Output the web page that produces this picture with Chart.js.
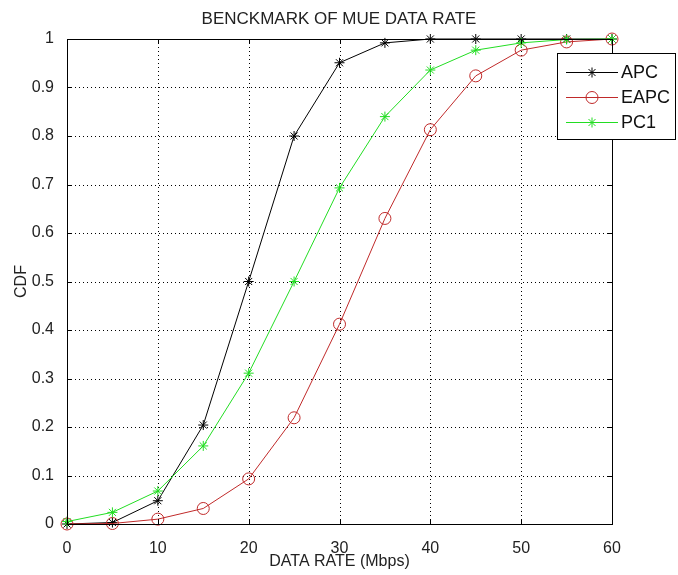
<!DOCTYPE html>
<html lang="en">
<head>
  <meta charset="UTF-8" />
  <title>Benckmark of MUE data rate</title>
  <script src="https://cdn.jsdelivr.net/npm/chart.js"></script>
  <style>
    html,body{margin:0;padding:0;background:#fff;}
    canvas{display:block;}
  </style>
</head>
<body>
  <canvas id="chart" width="678" height="575"></canvas>

<script>
// ── data ─────────────────────────────────────────────────────────────────
const rates = [0, 5, 10, 15, 20, 25, 30, 35, 40, 45, 50, 55, 60];
const apc   = [0, 0.003, 0.048, 0.204, 0.5, 0.8, 0.951, 0.992, 1, 1, 1, 1, 1];
const eapc  = [0, 0.001, 0.01, 0.032, 0.093, 0.219, 0.412, 0.63, 0.813, 0.924, 0.977, 0.994, 1];
const pc1   = [0.005, 0.024, 0.068, 0.161, 0.311, 0.5, 0.693, 0.84, 0.936, 0.977, 0.992, 0.999, 1];
const xTicks = [0, 10, 20, 30, 40, 50, 60];
const yTicks = [0, 0.1, 0.2, 0.3, 0.4, 0.5, 0.6, 0.7, 0.8, 0.9, 1];

const FONT = '"Liberation Sans", Arial, sans-serif';
const RED = '#c02a2a', GREEN = '#22dd22';

const pts = ys => rates.map((x, i) => ({x, y: ys[i]}));

function series(label, ys, color, style, radius, order){
  return {
    label, data: pts(ys), order,
    borderColor: color, borderWidth: 1, tension: 0,
    pointStyle: style, pointRadius: radius, pointBorderColor: color,
    pointBackgroundColor: 'rgba(0,0,0,0)', pointBorderWidth: 1,
    clip: false
  };
}

// ── MATLAB-ish grid, box, inward ticks and legend ───────────────────────
function marker(ctx, style, color, x, y, r){
  ctx.save();
  ctx.strokeStyle = color; ctx.lineWidth = 1;
  ctx.beginPath();
  if(style === 'circle'){
    ctx.arc(x, y, r, 0, Math.PI*2);
  } else {
    ctx.moveTo(x - r, y); ctx.lineTo(x + r, y);
    ctx.moveTo(x, y - r); ctx.lineTo(x, y + r);
    const d = r*0.7;
    ctx.moveTo(x - d, y - d); ctx.lineTo(x + d, y + d);
    ctx.moveTo(x - d, y + d); ctx.lineTo(x + d, y - d);
  }
  ctx.stroke();
  ctx.restore();
}

const boxPlugin = {
  id: 'box',
  beforeDatasetsDraw(chart){
    const {ctx, chartArea: a, scales: {x, y}} = chart;
    ctx.save();
    ctx.strokeStyle = '#000'; ctx.lineWidth = 1;
    ctx.setLineDash([1, 3]);
    ctx.beginPath();
    xTicks.forEach(v => {
      const px = Math.round(x.getPixelForValue(v)) + 0.5;
      ctx.moveTo(px, a.bottom); ctx.lineTo(px, a.top);
    });
    yTicks.forEach(v => {
      const py = Math.round(y.getPixelForValue(v)) + 0.5;
      ctx.moveTo(a.left, py); ctx.lineTo(a.right, py);
    });
    ctx.stroke();
    ctx.restore();
  },
  afterDatasetsDraw(chart){
    const {ctx, chartArea: a, scales: {x, y}} = chart;
    ctx.save();
    ctx.strokeStyle = '#000'; ctx.lineWidth = 1;
    ctx.strokeRect(Math.round(a.left) + 0.5, Math.round(a.top) + 0.5,
                   Math.round(a.right - a.left), Math.round(a.bottom - a.top));
    ctx.beginPath();
    xTicks.forEach(v => {
      const px = Math.round(x.getPixelForValue(v)) + 0.5;
      ctx.moveTo(px, a.bottom); ctx.lineTo(px, a.bottom - 5);
      ctx.moveTo(px, a.top);    ctx.lineTo(px, a.top + 5);
    });
    yTicks.forEach(v => {
      const py = Math.round(y.getPixelForValue(v)) + 0.5;
      ctx.moveTo(a.left, py);  ctx.lineTo(a.left + 5, py);
      ctx.moveTo(a.right, py); ctx.lineTo(a.right - 5, py);
    });
    ctx.stroke();
    ctx.restore();
  },
  afterDraw(chart){
    const ctx = chart.ctx;
    const bx = 557, by = 53, bw = 118, bh = 86;
    ctx.save();
    ctx.fillStyle = '#fff';
    ctx.fillRect(bx, by, bw, bh);
    ctx.strokeStyle = '#000'; ctx.lineWidth = 1;
    ctx.strokeRect(bx + 0.5, by + 0.5, bw, bh);
    ctx.font = '18px ' + FONT;
    ctx.textBaseline = 'middle';
    ctx.fillStyle = '#111';
    const rows = [
      ['APC', '#000', 'star', 5],
      ['EAPC', RED, 'circle', 6],
      ['PC1', GREEN, 'star', 5]
    ];
    rows.forEach(([name, color, style, r], i) => {
      const yy = by + 19.5 + i*25;
      ctx.strokeStyle = color;
      ctx.beginPath(); ctx.moveTo(566, yy); ctx.lineTo(618, yy); ctx.stroke();
      marker(ctx, style, color, 592, yy, r);
      ctx.fillText(name, 621, yy + 1);
    });
    ctx.restore();
  }
};

const noGrid = {display: false};

new Chart(document.getElementById('chart'), {
  type: 'line',
  data: {
    datasets: [
      series('APC', apc, '#000', 'star', 5, 3),
      series('EAPC', eapc, RED, 'circle', 6, 2),
      series('PC1', pc1, GREEN, 'star', 5, 1)
    ]
  },
  options: {
    responsive: false,
    animation: false,
    devicePixelRatio: 1,
    layout: {padding: 0},
    plugins: {
      legend: {display: false},
      tooltip: {enabled: false},
      title: {
        display: true, text: 'BENCKMARK OF MUE DATA RATE', color: '#222',
        font: {family: FONT, size: 17, weight: 'normal'},
        padding: {top: 9, bottom: 9.6}
      }
    },
    scales: {
      x: {
        type: 'linear', min: 0, max: 60,
        afterFit: s => { s.height = 51; },
        afterBuildTicks: s => { s.ticks = xTicks.map(value => ({value})); },
        grid: noGrid,
        border: {display: false},
        ticks: {color: '#222', padding: 7, font: {family: FONT, size: 16}, maxRotation: 0},
        title: {display: true, text: 'DATA RATE (Mbps)', color: '#222',
                font: {family: FONT, size: 16}, padding: {top: 0, bottom: 4}}
      },
      y: {
        min: 0, max: 1,
        afterFit: s => { s.width = 67; },
        afterBuildTicks: s => { s.ticks = yTicks.map(value => ({value})); },
        grid: noGrid,
        border: {display: false},
        ticks: {color: '#222', padding: 5, font: {family: FONT, size: 16},
                callback: v => (v === 0 || v === 1) ? String(v) : v.toFixed(1)},
        title: {display: true, text: 'CDF', color: '#222',
                font: {family: FONT, size: 16}, padding: {top: 12, bottom: 0}}
      },
      // empty right-hand strip so the title centres on the whole figure
      yRight: {
        position: 'right', min: 0, max: 1,
        afterFit: s => { s.width = 66; },
        grid: noGrid,
        border: {display: false},
        ticks: {display: false}
      }
    }
  },
  plugins: [boxPlugin]
});
</script>
</body>
</html>
